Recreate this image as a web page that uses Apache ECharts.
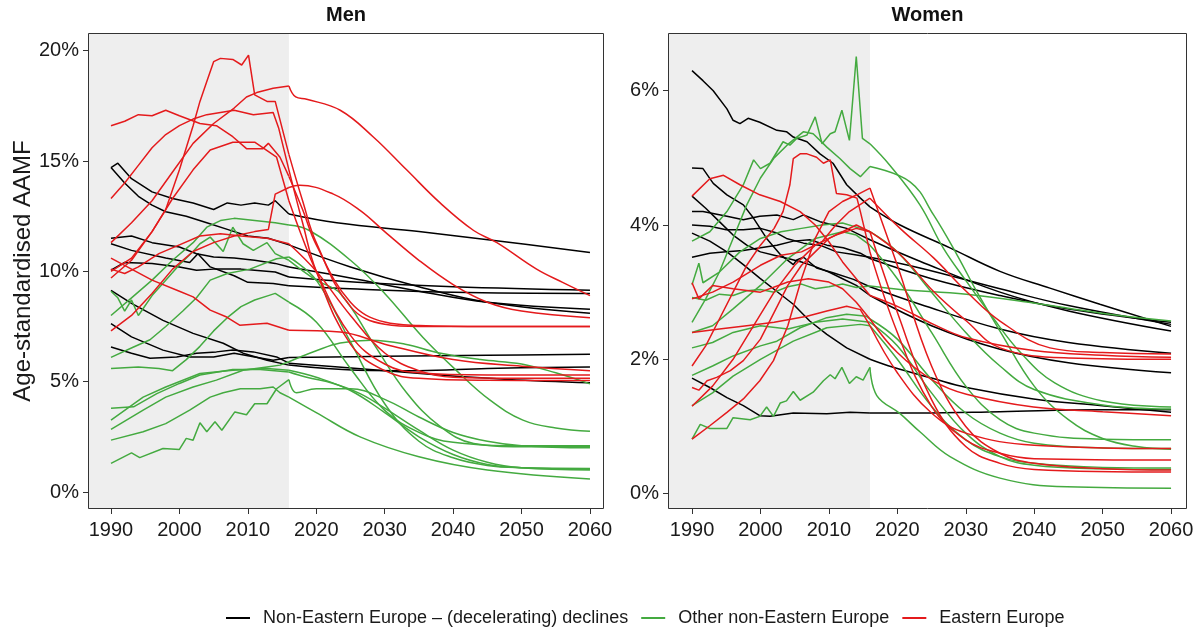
<!DOCTYPE html>
<html>
<head>
<meta charset="utf-8">
<script src="https://cdn.jsdelivr.net/npm/echarts@6.0.0/dist/echarts.min.js"></script>
<style>html,body{margin:0;padding:0;background:#fff}#c{width:1197px;height:630px}</style>
</head>
<body>
<div id="c"></div>
<script>
// ---------- tick labels ----------
const xTicks = [1990, 2000, 2010, 2020, 2030, 2040, 2050, 2060];
const menYTicks = [0, 5, 10, 15, 20];
const womenYTicks = [0, 2, 4, 6];
const panelTitles = ['Men', 'Women'];
const groupNames = ['Non-Eastern Europe \u2013 (decelerating) declines', 'Other non-Eastern Europe', 'Eastern Europe'];
const observedEnd = 2016;

// ---------- Men: black (Non-Eastern Europe – declines) ----------
const menBlackHist = [
  [[1990,14.7],[1991,14.9],[1993,14.2],[1996,13.6],[1999,13.3],[2002,13.1],[2005,12.8],[2007,13.1],[2009,13.0],[2011,13.1],[2013,13.0],[2014,13.2],[2016,12.6]],
  [[1990,14.7],[1992,14.0],[1994,13.4],[1996,13.0],[1998,12.7],[2001,12.5],[2004,12.2],[2007,11.9],[2010,11.6],[2013,11.5],[2016,11.2]],
  [[1990,11.5],[1993,11.6],[1996,11.3],[2000,11.1],[2002.5,10.8],[2005,10.65],[2008,10.6],[2011,10.5],[2014,10.36],[2016,10.2]],
  [[1990,10.05],[1992,10.4],[1996,10.35],[2000,10.2],[2002.5,10.05],[2005,10.1],[2009,10.1],[2011,10.05],[2014,9.97],[2016,9.74]],
  [[1990,11.25],[1993,10.95],[1998,10.6],[2001.5,10.4],[2002.7,10.8],[2004.5,10.2],[2008,9.8],[2010,9.5],[2013.7,9.45],[2016,9.35]],
  [[1990,9.14],[1993,8.55],[1997.6,7.78],[2002,7.19],[2006.4,6.74],[2009.3,6.29],[2012.8,5.97],[2016,5.75]],
  [[1990,7.63],[1993,7.03],[1997.6,6.43],[2001.5,6.12],[2005,6.12],[2008,6.29],[2011,6.12],[2013.7,5.97],[2016,6.1]],
  [[1990,6.57],[1993,6.29],[1995.7,6.06],[1999.6,6.12],[2002.5,6.29],[2005.4,6.35],[2007.8,6.43],[2010.8,6.35],[2014.2,6.12],[2016,5.84]]
];
const menBlackProj = [
  [[2016,12.6],[2023,12.2],[2035,11.8],[2046,11.4],[2060,10.85]],
  [[2016,11.2],[2025,10.2],[2035,9.3],[2045,8.6],[2060,8.1]],
  [[2016,10.2],[2025,9.7],[2035,9.1],[2045,8.6],[2060,8.28]],
  [[2016,9.74],[2026,9.5],[2040,9.3],[2060,9.14]],
  [[2016,9.35],[2026,9.2],[2040,9.05],[2060,9.0]],
  [[2016,5.75],[2026,5.52],[2035,5.5],[2045,5.6],[2060,5.66]],
  [[2016,6.1],[2030,6.15],[2045,6.2],[2060,6.24]],
  [[2016,5.84],[2026,5.6],[2038,5.3],[2048,5.1],[2060,4.95]]
];

// ---------- Men: green (Other non-Eastern Europe) ----------
const menGreenHist = [
  [[1990,8.0],[1993,8.8],[1996,9.6],[1999,10.5],[2002,11.3],[2004,12.0],[2006,12.3],[2008,12.4],[2011,12.3],[2014,12.2],[2016,12.1]],
  [[1990,9.1],[1991,8.8],[1992,8.2],[1993,8.7],[1994,8.0],[1996,8.9],[1998,9.6],[2000,10.3],[2002,10.9],[2003,11.25],[2004.5,11.55],[2006.4,10.9],[2007.8,12.0],[2009.3,11.25],[2010.8,10.95],[2012.8,11.3],[2014,10.8],[2016,10.5]],
  [[1990,6.1],[1993.3,6.57],[1995.7,6.9],[1998,7.5],[2000.5,8.2],[2002.5,8.8],[2004.5,9.6],[2007,9.9],[2010.3,10.1],[2014.2,10.57],[2016,10.65]],
  [[1990,5.6],[1994,5.67],[1997,5.6],[1999,5.5],[2001,6.0],[2003,6.6],[2005,7.3],[2007,7.9],[2009,8.4],[2011,8.7],[2013,8.9],[2014,9.0],[2016,8.6]],
  [[1990,3.79],[1993.3,3.86],[1996.7,4.46],[2000,4.92],[2003,5.3],[2007.8,5.55],[2011.8,5.55],[2016,5.44]],
  [[1990,3.26],[1994.7,4.3],[1998,4.76],[2003,5.37],[2007.8,5.52],[2012.8,5.6],[2016,5.52]],
  [[1990,2.84],[1994.7,3.71],[1998,4.3],[2002,4.76],[2005.4,5.07],[2009.3,5.52],[2012.8,5.67],[2014.7,5.75],[2016,5.9]],
  [[1990,2.35],[1994.7,2.73],[1998,3.1],[2001.5,3.71],[2004.5,4.3],[2006.4,4.5],[2008.9,4.68],[2011.8,4.68],[2013.7,4.76],[2014.7,4.5],[2016,4.3]],
  [[1990,1.3],[1993,1.77],[1994.2,1.56],[1997.6,1.97],[2000,1.93],[2001,2.43],[2002,2.35],[2003,3.14],[2004,2.73],[2005.2,3.18],[2006.2,2.8],[2008.1,3.63],[2009.8,3.5],[2011,4.0],[2012.8,4.0],[2014.2,4.68],[2016,5.09]]
];
const menGreenProj = [
  [[2016,12.1],[2019,11.85],[2025,10.5],[2030,9.0],[2035.6,7.0],[2040.5,5.5],[2045.4,4.16],[2050.2,3.26],[2055,2.9],[2060,2.75]],
  [[2016,10.5],[2020,9.6],[2023.5,9.0],[2028.3,6.76],[2033.2,4.5],[2038,3.0],[2043,2.2],[2050,2.05],[2060,2.05]],
  [[2016,10.65],[2020,9.6],[2025,6.8],[2030,4.0],[2035,2.3],[2040,1.55],[2045,1.2],[2050,1.1],[2060,1.07]],
  [[2016,8.6],[2020,7.7],[2025,5.6],[2030,3.7],[2035,2.7],[2040,2.25],[2050,2.1],[2060,2.1]],
  [[2016,5.44],[2018.6,5.2],[2022.5,4.92],[2026.4,4.46],[2030,3.8],[2035,2.8],[2040,1.9],[2045,1.35],[2050,1.1],[2060,1.0]],
  [[2016,5.52],[2020,5.2],[2025,4.6],[2030,3.6],[2035,2.5],[2040,1.7],[2045,1.25],[2050,1.1],[2060,1.03]],
  [[2016,5.9],[2020,6.4],[2023.5,6.75],[2028,6.88],[2033,6.7],[2038,6.3],[2044,6.0],[2050,5.8],[2055,5.4],[2060,4.9]],
  [[2016,4.3],[2020,3.6],[2026.4,2.5],[2035,1.6],[2045,1.0],[2060,0.59]],
  [[2016,5.09],[2017.1,4.5],[2020,4.68],[2025,4.68],[2030,4.2],[2035,3.4],[2040,2.7],[2045,2.3],[2050,2.1],[2060,2.0]]
];

// ---------- Men: red (Eastern Europe) ----------
const menRedHist = [
  [[1990,16.6],[1992,16.8],[1994,17.1],[1996,17.05],[1998,17.3],[2000,17.05],[2003,16.7],[2005.4,16.6],[2007.8,16.1],[2009.8,15.56],[2012.2,15.56],[2013,15.8],[2014.7,15.17],[2016,14.3]],
  [[1990,13.3],[1992,14.0],[1994,14.8],[1996,15.6],[1998,16.2],[2000,16.6],[2002,16.9],[2004,17.1],[2006,17.2],[2008,17.3],[2010.8,17.1],[2013.7,17.2],[2014.5,16.5],[2016,14.6]],
  [[1990,10.0],[1993,10.6],[1996,11.8],[1998,12.8],[2000,14.6],[2002,16.6],[2003,17.7],[2004,18.6],[2005,19.5],[2006,19.65],[2007.8,19.6],[2009.1,19.35],[2010.1,19.8],[2011,18.0],[2012.8,17.7],[2014,17.7],[2016,15.3]],
  [[1990,11.3],[1993,12.2],[1996,13.2],[1999,14.5],[2002,15.8],[2005,16.7],[2008,17.4],[2009.8,17.9],[2011.3,18.1],[2013.7,18.3],[2016,18.4]],
  [[1990,9.7],[1993,10.5],[1996,11.8],[1999,13.3],[2002,14.6],[2004.5,15.5],[2007.8,15.85],[2011,15.85],[2014.2,15.17],[2016,13.2]],
  [[1990,7.3],[1993,8.0],[1996,9.0],[1999,10.1],[2002,10.9],[2005,11.3],[2008,11.6],[2011,11.8],[2013,11.9],[2014,13.5],[2016,13.8]],
  [[1990,10.1],[1992,9.9],[1994,10.2],[1997,10.8],[2000,11.2],[2003,11.6],[2006,11.7],[2009,11.6],[2012.8,11.5],[2016,11.25]],
  [[1990,10.6],[1993,10.1],[1996,9.6],[2000,9.1],[2002,8.84],[2004.5,8.24],[2006.9,7.93],[2008.8,7.56],[2012.8,7.65],[2016,7.33]]
];
const menRedProj = [
  [[2016,14.3],[2018,12.8],[2020,11.2],[2025,8.6],[2030,7.7],[2035,7.55],[2045,7.5],[2060,7.5]],
  [[2016,14.6],[2018,12.2],[2020,10.0],[2025,6.7],[2030,5.5],[2035,5.15],[2045,5.06],[2060,5.05]],
  [[2016,15.3],[2018,13.2],[2020,11.3],[2025,8.4],[2030,7.6],[2035,7.5],[2060,7.5]],
  [[2016,18.4],[2017,17.9],[2018.6,17.8],[2023.5,17.3],[2028.3,16.1],[2033.2,14.6],[2038.1,13.1],[2043,11.85],[2046.4,11.3],[2052.2,10.1],[2056,9.5],[2060,8.9]],
  [[2016,13.2],[2018,11.5],[2020,10.0],[2025,7.1],[2030,5.8],[2035,5.4],[2045,5.3],[2060,5.3]],
  [[2016,13.8],[2017.6,13.9],[2022.5,13.5],[2026.4,12.76],[2030,11.8],[2035,10.5],[2040,9.4],[2045,8.6],[2050,8.2],[2060,7.9]],
  [[2016,11.25],[2020,10.0],[2025,8.0],[2030,6.3],[2035,5.5],[2040,5.2],[2050,5.15],[2060,5.15]],
  [[2016,7.33],[2023.5,7.25],[2030,6.7],[2040,6.0],[2050,5.7],[2060,5.5]]
];

// ---------- Women: black ----------
const womenBlackHist = [
  [[1990,6.3],[1991.6,6.15],[1993.1,6.0],[1995.1,5.73],[1996,5.56],[1997,5.51],[1998.2,5.59],[1999.9,5.53],[2002.4,5.41],[2003.8,5.39],[2004.8,5.31],[2006.8,5.24],[2008.7,5.06],[2010.6,4.92],[2012.6,4.6],[2014.6,4.4],[2016,4.27]],
  [[1990,4.85],[1991.6,4.84],[1993.1,4.62],[1995.1,4.45],[1997.5,4.3],[1999,4.1],[2000.9,3.8],[2002.9,3.56],[2004.8,3.41],[2005.3,3.48],[2006.3,3.52],[2008.2,3.36],[2010.6,3.29],[2013.6,3.19],[2016,3.08]],
  [[1990,3.88],[1992.6,3.76],[1995.1,3.6],[1997.5,3.41],[1999.9,3.21],[2002.4,3.01],[2004.8,2.82],[2007.2,2.57],[2009.7,2.37],[2012.6,2.17],[2016,2.0]],
  [[1990,1.72],[1992.6,1.58],[1995.1,1.43],[1997.5,1.31],[1999.9,1.16],[2001.4,1.15],[2004.8,1.2],[2009.7,1.19],[2013.1,1.21],[2016,1.2]],
  [[1990,4.2],[1991.6,4.2],[1995.1,4.13],[1997.5,4.08],[1999.9,4.13],[2002.4,4.15],[2004.8,4.08],[2006.3,4.15],[2008.7,4.05],[2010.6,4.0],[2012.6,3.95],[2014.6,3.85],[2016,3.78]],
  [[1990,4.0],[1992.6,3.98],[1995,3.93],[1997.5,3.93],[2000,3.95],[2002.4,3.88],[2003.8,3.8],[2006.3,3.73],[2008.7,3.7],[2011.1,3.6],[2013.6,3.56],[2016,3.52]],
  [[1990,3.52],[1992.6,3.58],[1995,3.6],[1997.5,3.62],[2000,3.66],[2002.4,3.7],[2004.8,3.76],[2007.2,3.78],[2009.7,3.7],[2012.1,3.66],[2014.6,3.58],[2016,3.5]],
  [[1990,4.43],[1992,4.25],[1994,4.05],[1996,3.85],[1998,3.7],[2000,3.6],[2002,3.55],[2004,3.5],[2006,3.45],[2008,3.38],[2010,3.3],[2012,3.2],[2014,3.1],[2016,2.95]]
];
const womenBlackProj = [
  [[2016,4.27],[2020.4,4.0],[2027.7,3.66],[2035,3.31],[2042.3,3.06],[2049.6,2.82],[2060,2.49]],
  [[2016,3.08],[2023.3,2.82],[2035,2.45],[2045,2.25],[2060,2.09]],
  [[2016,2.0],[2019.4,1.88],[2025,1.72],[2030.1,1.58],[2039.9,1.41],[2049.6,1.31],[2060,1.21]],
  [[2016,1.2],[2023.3,1.2],[2035,1.22],[2049.6,1.25],[2060,1.25]],
  [[2016,3.78],[2023.3,3.46],[2035,3.0],[2045,2.72],[2060,2.42]],
  [[2016,3.52],[2023.3,3.36],[2035,3.05],[2045,2.8],[2060,2.52]],
  [[2016,3.5],[2025,3.2],[2035,2.95],[2045,2.75],[2060,2.55]],
  [[2016,2.95],[2025,2.5],[2035,2.15],[2045,1.95],[2060,1.8]]
];

// ---------- Women: green ----------
const womenGreenHist = [
  [[1990,3.76],[1992.6,3.9],[1995.1,4.2],[1997.5,4.6],[1999,4.97],[2000,4.84],[2001.4,4.92],[2003.3,5.24],[2004.3,5.19],[2005.3,5.29],[2006.8,5.34],[2008,5.61],[2009,5.21],[2010.2,5.36],[2010.9,5.39],[2011.9,5.71],[2013,5.26],[2014,6.51],[2014.9,5.29],[2016,5.21]],
  [[1990,2.55],[1992,2.9],[1994,3.3],[1996,3.8],[1998,4.3],[2000,4.7],[2002,5.0],[2004,5.2],[2006.3,5.39],[2007.7,5.36],[2009.7,5.16],[2011.6,4.99],[2013.1,4.84],[2014.6,4.72],[2016,4.87]],
  [[1990,2.92],[1992,2.88],[1994,2.97],[1996,2.95],[1998,3.02],[2000,3.04],[2002,3.0],[2004,3.08],[2006,3.12],[2008,3.05],[2010,3.08],[2012,3.12],[2014,3.07],[2016,3.09]],
  [[1990,3.11],[1991,3.43],[1991.6,3.14],[1994,3.3],[1997,3.6],[2000,3.8],[2003,3.9],[2006,3.95],[2009,4.0],[2012,4.03],[2014.6,3.95],[2016,3.9]],
  [[1990,2.4],[1993,2.5],[1996,2.75],[2000,3.1],[2004,3.5],[2008,3.8],[2012,3.9],[2014,3.85],[2016,3.7]],
  [[1990,1.76],[1993,1.9],[1996,2.05],[2000,2.2],[2002.4,2.27],[2005.8,2.47],[2009.7,2.62],[2012.6,2.67],[2015.5,2.64],[2016,2.6]],
  [[1990,1.31],[1993,1.5],[1996,1.75],[2000,2.0],[2004.8,2.27],[2009.7,2.47],[2014.6,2.52],[2016,2.5]],
  [[1990,0.81],[1991.2,1.03],[1992.6,0.97],[1995.1,0.97],[1996,1.13],[1998.5,1.1],[1999.9,1.15],[2000.9,1.29],[2001.9,1.15],[2002.9,1.35],[2003.8,1.38],[2004.8,1.52],[2005.8,1.39],[2007.7,1.51],[2009.2,1.68],[2010.2,1.77],[2010.9,1.71],[2011.9,1.88],[2013,1.64],[2014,1.74],[2015,1.69],[2016,1.88]],
  [[1990,2.17],[1993,2.25],[1996,2.4],[2000,2.5],[2004,2.45],[2008,2.55],[2012,2.6],[2016,2.55]]
];
const womenGreenProj = [
  [[2016,5.21],[2018.9,4.89],[2023.3,4.3],[2026.7,3.66],[2030.1,3.16],[2033.6,2.67],[2038,2.1],[2043,1.65],[2050,1.38],[2060,1.29]],
  [[2016,4.87],[2021.9,4.64],[2025.3,4.15],[2028.7,3.56],[2031.6,3.01],[2035,2.42],[2040,1.6],[2045,1.1],[2050,0.82],[2055,0.7],[2060,0.66]],
  [[2016,3.09],[2020.4,3.04],[2030.1,2.97],[2039.9,2.84],[2049.6,2.69],[2060,2.57]],
  [[2016,3.9],[2020,3.6],[2025,3.0],[2030,2.4],[2035,1.9],[2040,1.55],[2050,1.32],[2060,1.26]],
  [[2016,3.7],[2020,3.2],[2025,2.4],[2030,1.6],[2035,1.1],[2040,0.9],[2050,0.81],[2060,0.8]],
  [[2016,2.6],[2020,2.3],[2025,1.7],[2030,1.2],[2035,0.9],[2040,0.75],[2050,0.68],[2060,0.67]],
  [[2016,2.5],[2020,2.0],[2025,1.3],[2030,0.8],[2035,0.55],[2040,0.45],[2050,0.39],[2060,0.38]],
  [[2016,1.88],[2017,1.46],[2020.4,1.19],[2023.3,0.92],[2027.7,0.55],[2035,0.23],[2044.8,0.1],[2060,0.08]],
  [[2016,2.55],[2020,2.2],[2025,1.5],[2030,0.9],[2035,0.55],[2040,0.42],[2050,0.37],[2060,0.36]]
];

// ---------- Women: red ----------
const womenRedHist = [
  [[1990,4.43],[1992.6,4.69],[1994.6,4.74],[1997,4.6],[1999.9,4.45],[2002.9,4.35],[2005.8,4.2],[2008,4.0],[2010,3.75],[2012,3.45],[2014,3.2],[2016,2.95]],
  [[1990,1.9],[1992,2.2],[1994,2.6],[1996,3.0],[1998,3.4],[2000,3.7],[2002,3.95],[2003.3,4.2],[2004.3,4.6],[2004.8,4.99],[2005.8,5.06],[2006.8,5.06],[2008.2,5.01],[2009.2,4.92],[2010.2,4.97],[2011.1,4.47],[2012.6,4.45],[2014.1,4.4],[2014.6,4.2],[2016,3.6]],
  [[1990,0.81],[1992.6,1.01],[1995.1,1.21],[1997.5,1.41],[1999.9,1.68],[2001.9,1.98],[2004,2.5],[2006,3.2],[2008,3.8],[2010,4.2],[2012,4.35],[2014.1,4.45],[2016,4.55]],
  [[1990,1.58],[1991,1.54],[1992.2,1.68],[1993.6,1.73],[1995.6,1.83],[1997.5,1.98],[2000,2.3],[2002,2.7],[2004,3.1],[2006,3.4],[2008,3.6],[2010,3.8],[2012,3.9],[2014,4.0],[2016,3.9]],
  [[1990,3.14],[1991,2.9],[1993,3.1],[1996,3.05],[2000,3.0],[2004,3.15],[2007,3.2],[2010,3.15],[2012,3.05],[2014,2.85],[2016,2.6]],
  [[1990,2.9],[1993,3.0],[1996,3.15],[2000,3.4],[2003,3.55],[2006,3.6],[2009,3.75],[2011,4.0],[2013,4.2],[2016,4.4]],
  [[1990,2.4],[1994,2.45],[1998,2.5],[2002,2.55],[2006.8,2.64],[2009.7,2.72],[2012.6,2.79],[2014.6,2.74],[2016,2.5]],
  [[1990,1.3],[1993,1.6],[1996,2.0],[1999,2.5],[2002,3.0],[2005,3.4],[2008,3.7],[2011,3.85],[2014,3.95],[2016,3.9]]
];
const womenRedProj = [
  [[2016,2.95],[2020.4,2.77],[2025.3,2.52],[2030.1,2.32],[2039.9,2.13],[2050,2.06],[2060,2.03]],
  [[2016,3.6],[2020,2.4],[2025,1.3],[2030,0.8],[2035,0.6],[2040,0.52],[2060,0.5]],
  [[2016,4.55],[2020,3.4],[2025,1.9],[2030,1.0],[2035,0.6],[2040,0.45],[2050,0.37],[2060,0.35]],
  [[2016,3.9],[2020.4,3.56],[2025.3,3.01],[2030.1,2.57],[2035,2.17],[2045,2.02],[2060,2.0]],
  [[2016,2.6],[2020,2.1],[2025.3,1.68],[2030.1,1.48],[2039.9,1.29],[2050,1.22],[2060,1.16]],
  [[2016,4.4],[2020.4,3.95],[2025.3,3.51],[2030.1,3.01],[2035,2.57],[2042.3,2.17],[2050,2.1],[2060,2.08]],
  [[2016,2.5],[2020,1.8],[2025,1.2],[2030,0.9],[2040,0.72],[2060,0.67]],
  [[2016,3.9],[2020,2.7],[2025,1.4],[2030,0.7],[2035,0.45],[2040,0.36],[2060,0.32]]
];

// ---------- styling / layout ----------
const FONT = '"Liberation Sans", Arial, Helvetica, sans-serif';
const COLORS = ['#000000', '#44AA40', '#E41A1C'];
const TXT = '#1a1a1a';
const grids = [
  {left: 88, top: 33, width: 516, height: 476},
  {left: 668, top: 33, width: 519, height: 476}
];
const xRanges = [[1986.64, 2062.05], [1986.49, 2062.33]];
const yRanges = [[-0.77, 20.8], [-0.23, 6.86]];
const yTickSets = [menYTicks, womenYTicks];

const series = [];
function addGroup(hists, projs, gi, ci) {
  hists.forEach((h, i) => {
    const base = {
      type: 'line', name: groupNames[ci], xAxisIndex: gi, yAxisIndex: gi,
      showSymbol: false, symbol: 'none', silent: true, animation: false,
      lineStyle: {color: COLORS[ci], width: 1.5}, itemStyle: {color: COLORS[ci]}, z: 3 + ci
    };
    series.push(Object.assign({}, base, {data: h, smooth: false}));
    series.push(Object.assign({}, base, {data: projs[i], smooth: 0.4}));
  });
}
// shaded observed period via markArea on a carrier series per panel
[0, 1].forEach(gi => {
  series.push({
    type: 'line', name: '_shade' + gi, xAxisIndex: gi, yAxisIndex: gi, data: [],
    showSymbol: false, silent: true, animation: false, z: 1,
    markArea: {silent: true, itemStyle: {color: '#EEEEEE'},
      data: [[{xAxis: xRanges[gi][0]}, {xAxis: observedEnd}]]}
  });
});
addGroup(menBlackHist, menBlackProj, 0, 0);
addGroup(menGreenHist, menGreenProj, 0, 1);
addGroup(menRedHist, menRedProj, 0, 2);
addGroup(womenBlackHist, womenBlackProj, 1, 0);
addGroup(womenGreenHist, womenGreenProj, 1, 1);
addGroup(womenRedHist, womenRedProj, 1, 2);

const xAxes = [0, 1].map(gi => ({
  type: 'value', gridIndex: gi, min: xRanges[gi][0], max: xRanges[gi][1],
  axisLine: {show: false, onZero: false}, splitLine: {show: false},
  axisTick: {show: true, length: 5, lineStyle: {color: '#333', width: 1}, customValues: xTicks},
  axisLabel: {customValues: xTicks, formatter: v => String(v), color: TXT, fontSize: 20, fontFamily: FONT, margin: 11}
}));
const yAxes = [0, 1].map(gi => ({
  type: 'value', gridIndex: gi, min: yRanges[gi][0], max: yRanges[gi][1],
  axisLine: {show: false, onZero: false}, splitLine: {show: false},
  axisTick: {show: true, length: 5, lineStyle: {color: '#333', width: 1}, customValues: yTickSets[gi]},
  axisLabel: {customValues: yTickSets[gi], formatter: v => v + '%', color: TXT, fontSize: 20, fontFamily: FONT, margin: 9},
  name: gi === 0 ? 'Age-standardised AAMF' : '', nameLocation: 'middle', nameGap: 53, nameRotate: 90,
  nameTextStyle: {color: TXT, fontSize: 24, fontFamily: FONT}
}));

const graphics = [];
grids.forEach((g, gi) => {
  graphics.push({type: 'rect', z: 100, silent: true,
    shape: {x: g.left + 0.5, y: g.top + 0.5, width: g.width - 1, height: g.height - 1},
    style: {fill: null, stroke: '#333333', lineWidth: 1}});
  graphics.push({type: 'text', z: 100, silent: true,
    x: g.left + g.width / 2, y: 15,
    style: {text: panelTitles[gi], font: 'bold 20px ' + FONT, fill: '#111', textAlign: 'center', textVerticalAlign: 'middle'}});
});

const chart = echarts.init(document.getElementById('c'), null, {renderer: 'canvas'});
chart.setOption({
  animation: false,
  backgroundColor: '#ffffff',
  grid: grids,
  xAxis: xAxes,
  yAxis: yAxes,
  legend: {
    data: groupNames, left: 226, top: 609, padding: 0, icon: 'rect', itemWidth: 24, itemHeight: 2, itemGap: 13,
    textStyle: {color: TXT, fontSize: 18, fontFamily: FONT, padding: [0, 0, 0, 8]}, selectedMode: false
  },
  graphic: graphics,
  series: series
});
</script>
</body>
</html>
